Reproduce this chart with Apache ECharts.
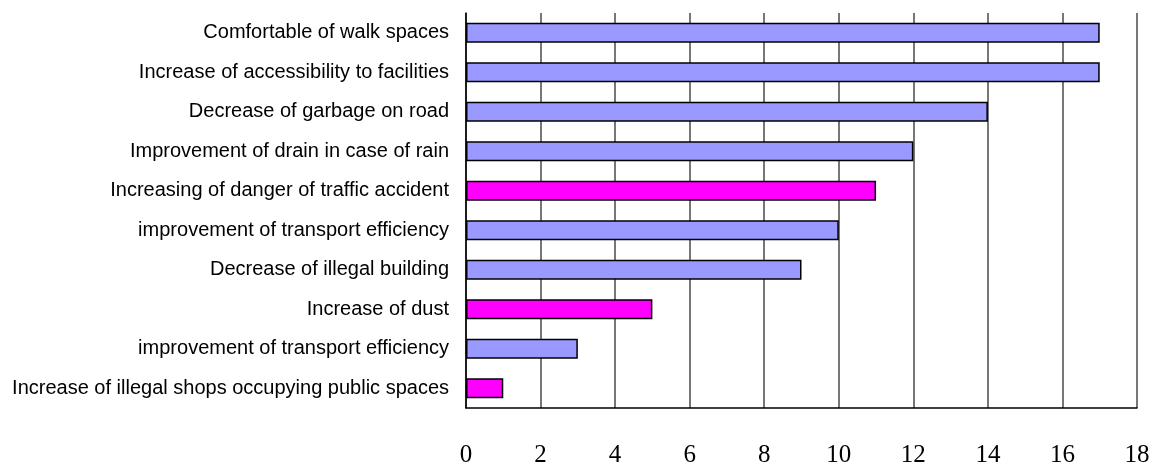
<!DOCTYPE html>
<html>
<head>
<meta charset="utf-8">
<script src="https://cdn.jsdelivr.net/npm/echarts@6/dist/echarts.min.js"></script>
<style>
  html, body { margin: 0; padding: 0; background: #fff; }
  #chart { width: 1153px; height: 468px; }
</style>
</head>
<body>
<div id="chart"></div>
<script>
// Items, listed top to bottom
const categories = [
  'Comfortable of walk spaces',
  'Increase of accessibility to facilities',
  'Decrease of garbage on road',
  'Improvement of drain in case of rain',
  'Increasing of danger of traffic accident',
  'improvement of transport efficiency',
  'Decrease of illegal building',
  'Increase of dust',
  'improvement of transport efficiency',
  'Increase of illegal shops occupying public spaces'
];
const counts = [17, 17, 14, 12, 11, 10, 9, 5, 3, 1];
// true = negative effect (drawn in magenta)
const negative = [false, false, false, false, true, false, false, true, false, true];
const xTicks = [0, 2, 4, 6, 8, 10, 12, 14, 16, 18];

const POS = '#9999FF';
const NEG = '#FF00FF';

const chart = echarts.init(document.getElementById('chart'), null, { renderer: 'canvas' });

chart.setOption({
  animation: false,
  backgroundColor: '#ffffff',
  grid: { left: 466, right: 16, top: 13, bottom: 60, containLabel: false },
  xAxis: {
    type: 'value',
    min: xTicks[0],
    max: xTicks[xTicks.length - 1],
    interval: 2,
    axisLine: { show: true, lineStyle: { color: '#000', width: 1.5 } },
    axisTick: { show: false },
    axisLabel: {
      margin: 35,
      fontFamily: 'Liberation Serif',
      fontSize: 25,
      color: '#000'
    },
    splitLine: { show: true, lineStyle: { color: '#777', width: 2 } }
  },
  yAxis: {
    type: 'category',
    inverse: true,
    data: categories,
    axisLine: { show: true, onZero: false, lineStyle: { color: '#000', width: 1.5 } },
    axisTick: { show: false },
    axisLabel: {
      margin: 17,
      fontFamily: 'Liberation Sans',
      fontSize: 20,
      color: '#000'
    },
    splitLine: { show: false }
  },
  series: [{
    type: 'bar',
    barWidth: 20,
    data: counts.map((v, i) => ({
      value: v,
      itemStyle: { color: negative[i] ? NEG : POS }
    })),
    itemStyle: { borderColor: '#000', borderWidth: 1.5 }
  }]
});
</script>
</body>
</html>
